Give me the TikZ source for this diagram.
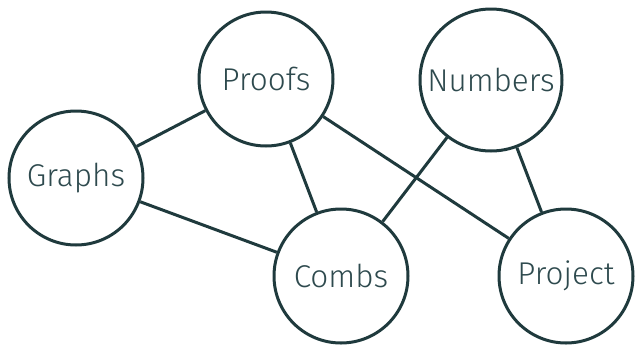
\documentclass[tikz,border=0pt]{standalone}
\usepackage{fontspec}
\setmainfont{Fira Sans}[UprightFont={* Light}]
\definecolor{ink}{HTML}{1F3A3D}
\definecolor{txt}{HTML}{2E4A4E}
\begin{document}
\begin{tikzpicture}[x=1pt,y=-1pt,
  topic/.style={circle,draw=ink,line width=3pt,minimum size=134pt,inner sep=0pt,fill=white,text=txt,font=\fontsize{31.5}{36}\selectfont},
  link/.style={draw=ink,line width=3pt}]
\useasboundingbox (0,0) rectangle (635,346);
\node[topic] (graphs) at (76,178) {Graphs};
\node[topic] (proofs) at (266,79) {Proofs};
\node[topic,minimum size=142pt] (numbers) at (491,80) {Numbers};
\node[topic] (combs) at (341,276) {Combs};
\node[topic] (project) at (566,276) {Project};
\draw[link] (graphs) -- (proofs);
\draw[link] (graphs) -- (combs);
\draw[link] (proofs) -- (combs);
\draw[link] (proofs) -- (project);
\draw[link] (numbers) -- (combs);
\draw[link] (numbers) -- (project);
\end{tikzpicture}
\end{document}
